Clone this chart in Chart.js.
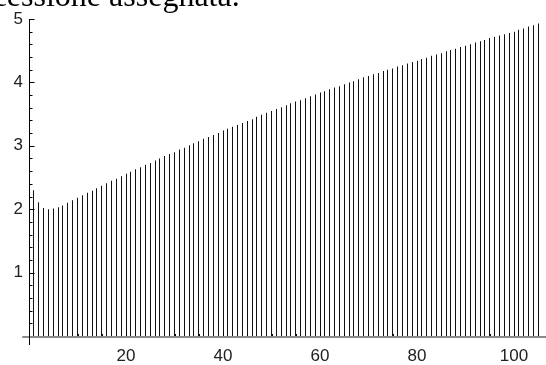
<!DOCTYPE html>
<html>
<head>
<meta charset="utf-8">
<script src="https://cdn.jsdelivr.net/npm/chart.js@4"></script>
<style>
html,body{margin:0;padding:0;background:#fff;overflow:hidden}
#wrap{position:relative;width:546px;height:365px;overflow:hidden}
#title{position:absolute;left:-50px;top:-21px;font:32px 'Liberation Serif',serif;line-height:32px;white-space:nowrap;color:#000}
canvas{position:absolute;left:0;top:0}
</style>
</head>
<body>
<div id="wrap">
  <canvas id="c" width="546" height="365"></canvas>
  <div id="title">successione assegnata.</div>
</div>
<script>
// valori della successione, n = 1 .. 105
const values = [
  2.30, 2.11, 2.02, 2.00, 2.01, 2.03, 2.06, 2.10, 2.14, 2.18,
  2.22, 2.26, 2.29, 2.33, 2.37, 2.41, 2.45, 2.48, 2.52, 2.56,
  2.59, 2.63, 2.66, 2.70, 2.73, 2.77, 2.80, 2.84, 2.87, 2.90,
  2.94, 2.97, 3.01, 3.04, 3.07, 3.11, 3.14, 3.17, 3.20, 3.24,
  3.27, 3.30, 3.33, 3.36, 3.39, 3.42, 3.46, 3.49, 3.52, 3.55,
  3.58, 3.61, 3.64, 3.67, 3.70, 3.72, 3.75, 3.78, 3.81, 3.84,
  3.86, 3.89, 3.92, 3.94, 3.97, 4.00, 4.02, 4.05, 4.08, 4.10,
  4.13, 4.15, 4.18, 4.20, 4.22, 4.25, 4.27, 4.30, 4.32, 4.34,
  4.37, 4.39, 4.42, 4.44, 4.46, 4.49, 4.51, 4.53, 4.56, 4.58,
  4.60, 4.63, 4.65, 4.67, 4.70, 4.72, 4.74, 4.76, 4.78, 4.80,
  4.83, 4.85, 4.88, 4.90, 4.93
];
const indices = values.map((v, i) => i + 1);
const xTicks = [20, 40, 60, 80, 100];
const yTicks = [1, 2, 3, 4, 5];

// aghi larghi un pixel, allineati alla griglia dei pixel
const snapPlugin = {
  id: 'snap',
  beforeDatasetsDraw(chart) {
    chart.getDatasetMeta(0).data.forEach(b => { b.x = Math.floor(b.x) + 0.5; });
  }
};

// assi alla Mathematica: asse x grigio, asse y nero, tacche verso l'interno
const axesPlugin = {
  id: 'axes',
  afterDatasetsDraw(chart) {
    const {ctx, scales: {x, y}} = chart;
    const ax = Math.round(x.getPixelForValue(0)) + 0.5;
    const ay = Math.round(y.getPixelForValue(0));
    ctx.save();
    ctx.strokeStyle = '#8a8a8a';
    ctx.lineWidth = 2;
    ctx.beginPath();
    ctx.moveTo(x.getPixelForValue(-1.4), ay + 1);
    ctx.lineTo(chart.width, ay + 1);
    ctx.stroke();

    ctx.strokeStyle = '#000';
    ctx.lineWidth = 1;
    ctx.beginPath();
    ctx.moveTo(ax, y.getPixelForValue(5));
    ctx.lineTo(ax, y.getPixelForValue(y.min));
    for (let k = 1; k <= 25; k++) {
      const py = Math.round(y.getPixelForValue(k / 5)) + 0.5;
      ctx.moveTo(ax, py);
      ctx.lineTo(ax + (k % 5 === 0 ? 5 : 3), py);
    }
    for (let k = 1; k <= 21; k++) {
      const v = k * 5;
      const px = Math.round(x.getPixelForValue(v)) + 0.5;
      ctx.moveTo(px, ay);
      ctx.lineTo(px, ay - (xTicks.includes(v) ? 4 : 2));
    }
    ctx.stroke();
    ctx.restore();
  }
};

new Chart(document.getElementById('c'), {
  type: 'bar',
  data: {
    datasets: [{
      data: indices.map((n, i) => ({x: n, y: values[i]})),
      backgroundColor: '#111',
      borderWidth: 0,
      inflateAmount: 0,
      barThickness: 1
    }]
  },
  options: {
    responsive: false,
    animation: false,
    layout: {padding: 0},
    plugins: {legend: {display: false}, tooltip: {enabled: false}},
    scales: {
      x: {
        type: 'linear',
        offset: false,
        min: 0,
        max: 517 / 4.85,
        afterFit: s => { s.height = 20; s.paddingLeft = 0; s.paddingRight = 0; },
        grid: {display: false, drawTicks: false},
        border: {display: false},
        ticks: {
          stepSize: 20,
          includeBounds: false,
          padding: 1,
          maxRotation: 0,
          color: '#222',
          font: {family: 'Liberation Sans', size: 17},
          callback: v => xTicks.includes(v) ? String(v) : ''
        }
      },
      y: {
        min: -9 / 63.4,
        max: 336 / 63.4,
        afterFit: s => { s.width = 29; s.paddingTop = 0; s.paddingBottom = 0; },
        grid: {display: false, drawTicks: false},
        border: {display: false},
        ticks: {
          stepSize: 1,
          includeBounds: false,
          padding: 6,
          color: '#222',
          font: {family: 'Liberation Sans', size: 17},
          callback: v => yTicks.includes(v) ? String(v) : ''
        }
      }
    }
  },
  plugins: [snapPlugin, axesPlugin]
});
</script>
</body>
</html>
